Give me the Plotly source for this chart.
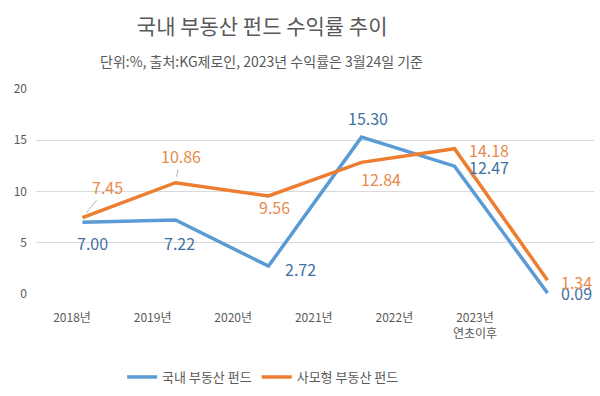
import plotly.graph_objects as go

categories = ["2018년", "2019년", "2020년", "2021년", "2022년", "2023년<br>연초이후"]
domestic = [7.00, 7.22, 2.72, 15.30, 12.47, 0.09]
private = [7.45, 10.86, 9.56, 12.84, 14.18, 1.34]
y_ticks = [0, 5, 10, 15, 20]

series_names = ["국내 부동산 펀드", "사모형 부동산 펀드"]
line_colors = ["#5B9BD5", "#ED7D31"]
label_colors = ["#3F71A3", "#E88A4C"]

# label offsets in pixels (dx, dy with dy positive = down)
dom_off = [(10, 21), (4, 23), (32, 3), (6, -19), (34, 1), (29, 0)]
pri_off = [(25, -31), (5, -27), (6, 11), (19, 17), (34, 1), (29, 2)]
pri_leader = [True, True, False, False, False, False]

FONT = "Noto Sans CJK KR"
GREY = "#595959"

fig = go.Figure()
for name, vals, col in zip(series_names, [domestic, private], line_colors):
    fig.add_trace(go.Scatter(
        x=categories, y=vals, mode="lines", name=name,
        line=dict(color=col, width=3.5), hoverinfo="skip",
    ))

# invisible trace to carry the tick-label axis
fig.add_trace(go.Scatter(x=list(range(len(categories))), y=[None] * len(categories),
                         xaxis="x2", yaxis="y", showlegend=False, hoverinfo="skip",
                         mode="lines"))

annotations = []
for vals, offs, col, leaders in [
    (domestic, dom_off, label_colors[0], [False] * 6),
    (private, pri_off, label_colors[1], pri_leader),
]:
    for c, v, (dx, dy), lead in zip(categories, vals, offs, leaders):
        if lead:
            annotations.append(dict(
                x=c, y=v, xref="x", yref="y", text=f"{v:.2f}",
                showarrow=True, ax=dx, ay=dy, arrowhead=0, arrowwidth=0.8,
                arrowcolor="#A6A6A6", standoff=6,
                font=dict(family=FONT, size=16, color=col),
            ))
        else:
            annotations.append(dict(
                x=c, y=v, xref="x", yref="y", text=f"{v:.2f}",
                showarrow=False, xshift=dx, yshift=-dy,
                font=dict(family=FONT, size=16, color=col),
            ))

annotations.append(dict(
    text="단위:%, 출처:KG제로인, 2023년 수익률은 3월24일 기준",
    xref="paper", yref="paper", x=0.405, y=1.137, showarrow=False,
    xanchor="center", yanchor="middle",
    font=dict(family=FONT, size=14, color=GREY),
))

fig.update_layout(
    width=600, height=396,
    margin=dict(l=36, r=6, t=89, b=102, autoexpand=False),
    paper_bgcolor="white", plot_bgcolor="white",
    font=dict(family=FONT, color=GREY),
    title=dict(text="국내 부동산 펀드 수익률 추이", x=0.437, xanchor="center",
               y=0.932, yanchor="middle", font=dict(family=FONT, size=21, color=GREY)),
    xaxis=dict(type="category", categoryorder="array", categoryarray=categories,
               range=[-0.5, 5.5], showticklabels=False, showgrid=False,
               zeroline=False, showline=False, automargin=False),
    xaxis2=dict(overlaying="x", anchor="y", side="bottom", range=[-0.447, 6.477],
                tickmode="array", tickvals=list(range(len(categories))), ticktext=categories,
                showgrid=False, zeroline=False, showline=False, automargin=False,
                ticks="", ticklabelstandoff=15,
                tickfont=dict(family=FONT, size=12, color=GREY)),
    yaxis=dict(range=[0, 20], tickmode="array", tickvals=y_ticks,
               showgrid=True, gridcolor="#D9D9D9", gridwidth=1, zeroline=False,
               showline=False, ticks="", ticklabelstandoff=8, automargin=False,
               tickfont=dict(family=FONT, size=12, color=GREY)),
    legend=dict(orientation="h", x=0.407, xanchor="center", y=-0.405, yanchor="middle",
                font=dict(family=FONT, size=13, color=GREY), itemwidth=30,
                traceorder="normal"),
    annotations=annotations,
    showlegend=True,
)

fig.write_html("out.html", config={"displayModeBar": False},
               post_script="document.body.style.margin='0';document.body.style.overflow='hidden';")
